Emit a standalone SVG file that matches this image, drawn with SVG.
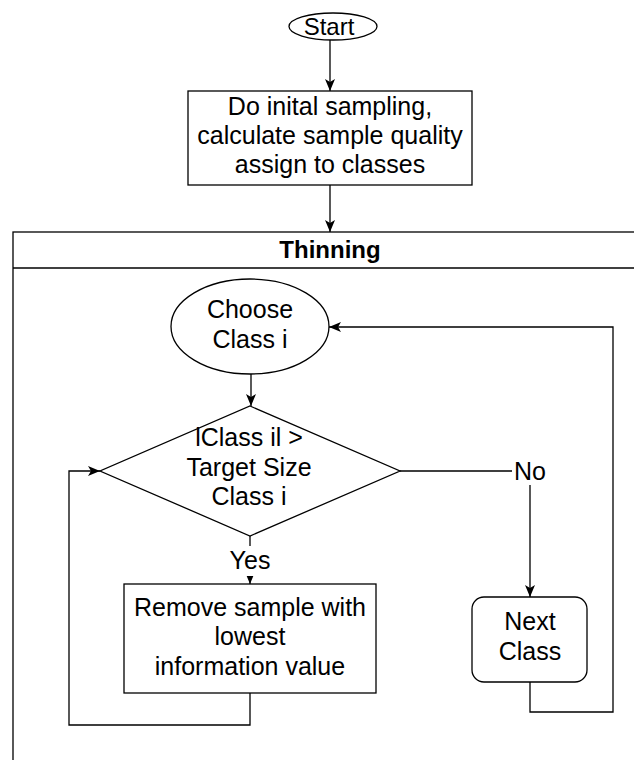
<svg xmlns="http://www.w3.org/2000/svg" width="634" height="760" viewBox="0 0 634 760">
<style>
.s{fill:#fff;stroke:#000;stroke-width:1.3}
.c{fill:none;stroke:#000;stroke-width:1.3}
text{font-family:"Liberation Sans",Arial,sans-serif;font-size:25px;fill:#000;text-anchor:middle}
.b{font-weight:bold;font-size:24px}
</style>
<defs>
<marker id="a" markerUnits="userSpaceOnUse" markerWidth="12" markerHeight="10" refX="12" refY="5" orient="auto">
<path d="M0,0 L12,5 L0,10 L3,5 z" fill="#000"/>
</marker>
</defs>
<rect width="634" height="760" fill="#fff"/>
<g id="thinning">
<rect class="s" x="13" y="232" width="700" height="600"/>
<line class="c" x1="13" y1="268" x2="713" y2="268"/>
<text class="b" x="330" y="258">Thinning</text>
</g>
<g id="start">
<ellipse class="s" cx="333" cy="26.5" rx="44" ry="13.5"/>
<text x="329" y="35" style="font-size:24px">Start</text>
</g>
<g id="initial">
<rect class="s" x="188" y="91" width="284" height="94"/>
<text x="330" y="115">Do inital sampling,</text>
<text x="330" y="144">calculate sample quality</text>
<text x="330" y="173">assign to classes</text>
</g>
<g id="choose">
<ellipse class="s" cx="250" cy="326.5" rx="79" ry="47.5"/>
<text x="250" y="318">Choose</text>
<text x="250" y="348">Class i</text>
</g>
<g id="decision">
<polygon class="s" points="250,406 400,471 250,536 100,471"/>
<text x="249" y="446">lClass il &gt;</text>
<text x="249" y="476">Target Size</text>
<text x="249" y="505">Class i</text>
</g>
<g id="remove">
<rect class="s" x="124" y="584" width="252" height="109"/>
<text x="250" y="616">Remove sample with</text>
<text x="250" y="645">lowest</text>
<text x="250" y="675">information value</text>
</g>
<g id="next">
<rect class="s" x="472" y="597" width="115" height="85" rx="12" ry="12"/>
<text x="530" y="630">Next</text>
<text x="530" y="660">Class</text>
</g>
<g id="connectors">
<path class="c" d="M330,40 L330,91" marker-end="url(#a)"/>
<path class="c" d="M330,185 L330,232" marker-end="url(#a)"/>
<path class="c" d="M251,374 L251,406" marker-end="url(#a)"/>
<path class="c" d="M400,471 L530,471 L530,597" marker-end="url(#a)"/>
<path class="c" d="M250,536 L250,584" marker-end="url(#a)"/>
<path class="c" d="M250,693 L250,725 L69,725 L69,471 L100,471" marker-end="url(#a)"/>
<path class="c" d="M530,682 L530,712 L613,712 L613,327 L329,327" marker-end="url(#a)"/>
<rect x="512" y="459" width="36" height="26" fill="#fff"/>
<text x="530" y="480">No</text>
<rect x="228" y="546" width="44" height="30" fill="#fff"/>
<text x="250" y="569">Yes</text>
</g>
</svg>
